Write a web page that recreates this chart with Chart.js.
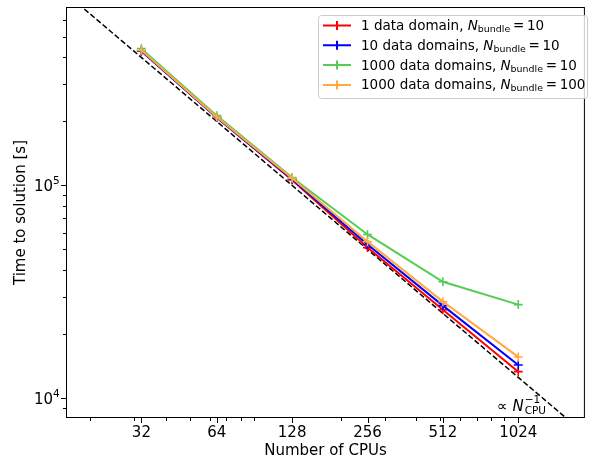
<!DOCTYPE html>
<html>
<head>
<meta charset="utf-8">
<script src="https://cdn.jsdelivr.net/npm/chart.js@4.4.0/dist/chart.umd.min.js"></script>
<style>
    html, body { margin: 0; padding: 0; background: #fff; }
</style>
</head>
<body>
<canvas id="scalingChart" width="591" height="459"></canvas>
<script>
// DATA
const cpus = [32, 64, 128, 256, 512, 1024];
const oneDomain = [429000, 209000, 106000, 51000, 26000, 13300];
const tenDomains = [429000, 209000, 107000, 52700, 27200, 14300];
const thousandDomains = [440000, 213000, 109000, 58800, 35200, 27500];
const thousandDomainsBundle100 = [432000, 210000, 108000, 54400, 28400, 15600];

// ideal N^-1 guide line (two end points)
const idealCpus = [16, 2048];
const idealTime = [800000, 6250];

const seriesNames = ["1 data domain, ", "10 data domains, ", "1000 data domains, ", "1000 data domains, "];
const bundleSizes = [10, 10, 10, 100];
const seriesColors = ["#ff0000", "#0000ff", "#55cc55", "#ffa940"];

const xTicks = [32, 64, 128, 256, 512, 1024];
const xMinorTicks = [20, 30, 40, 50, 60, 70, 80, 90, 200, 300, 400, 500, 600, 700, 800, 900];
const yTicks = [10000, 100000];
const yTickExponents = ["4", "5"];
const yMinorTicks = [9000, 20000, 30000, 40000, 50000, 60000, 70000, 80000, 90000,
                     200000, 300000, 400000, 500000, 600000];

const FONT = "DejaVu Sans";
const FS = 13.5;     // legend
const AFS = 15;      // axes text

function toPoints(xs, ys) {
    return xs.map((x, i) => ({ x: x, y: ys[i] }));
}

function font(size, style) {
    return (style ? style + " " : "") + size + "px '" + FONT + "'";
}

// draws text pieces one after another (for sub/superscripts)
function drawRich(ctx, x, y, parts) {
    for (const p of parts) {
        ctx.font = p.font;
        ctx.fillText(p.text, x, y + (p.dy || 0));
        if (!p.stay) {
            x += ctx.measureText(p.text).width;
        }
    }
    return x;
}

const decorations = {
    id: "decorations",
    afterDatasetsDraw(chart) {
        const { ctx, chartArea: a, scales: { x, y } } = chart;
        ctx.save();
        ctx.strokeStyle = "#000";
        ctx.lineWidth = 1;

        // frame
        ctx.strokeRect(a.left + 0.5, a.top + 0.5, a.right - a.left - 1, a.bottom - a.top - 1);

        // tick marks
        ctx.beginPath();
        xTicks.forEach(v => {
            const px = Math.round(x.getPixelForValue(v)) + 0.5;
            ctx.moveTo(px, a.bottom); ctx.lineTo(px, a.bottom + 5);
        });
        xMinorTicks.forEach(v => {
            const px = Math.round(x.getPixelForValue(v)) + 0.5;
            ctx.moveTo(px, a.bottom); ctx.lineTo(px, a.bottom + 3);
        });
        yTicks.forEach(v => {
            const py = Math.round(y.getPixelForValue(v)) + 0.5;
            ctx.moveTo(a.left, py); ctx.lineTo(a.left - 5, py);
        });
        yMinorTicks.forEach(v => {
            const py = Math.round(y.getPixelForValue(v)) + 0.5;
            ctx.moveTo(a.left, py); ctx.lineTo(a.left - 3, py);
        });
        ctx.stroke();

        // y tick labels as 10^n
        ctx.fillStyle = "#000";
        ctx.textBaseline = "alphabetic";
        yTicks.forEach((v, i) => {
            const py = y.getPixelForValue(v);
            drawRich(ctx, 34, py + 6, [
                { text: "10", font: font(AFS) },
                { text: yTickExponents[i], font: font(AFS * 0.7), dy: -7 }
            ]);
        });

        // proportionality note
        let tx = drawRich(ctx, 497, 411, [
            { text: "\u221d ", font: font(AFS) },
            { text: "N", font: font(AFS, "italic") }
        ]);
        drawRich(ctx, tx + 1, 411, [
            { text: "\u22121", font: font(AFS * 0.7), dy: -8, stay: true },
            { text: "CPU", font: font(AFS * 0.7), dy: 3 }
        ]);

        // legend box
        const lx = 318, ly = 15, lw = 269, lh = 83;
        ctx.beginPath();
        ctx.roundRect(lx + 0.5, ly + 0.5, lw, lh, 3);
        ctx.fillStyle = "rgba(255,255,255,0.8)";
        ctx.fill();
        ctx.strokeStyle = "#cccccc";
        ctx.stroke();

        seriesNames.forEach((name, i) => {
            const cy = 25.5 + i * 19.8;
            const col = seriesColors[i];
            ctx.strokeStyle = col;
            ctx.lineWidth = 2;
            ctx.beginPath();
            ctx.moveTo(323, cy); ctx.lineTo(351, cy);
            ctx.moveTo(337, cy - 4.5); ctx.lineTo(337, cy + 4.5);
            ctx.stroke();

            ctx.fillStyle = "#000";
            ctx.textBaseline = "middle";
            drawRich(ctx, 361, cy + 1, [
                { text: name, font: font(FS) },
                { text: "N", font: font(FS, "italic") },
                { text: "bundle", font: font(FS * 0.7), dy: 3 },
                { text: "\u2009=\u2009" + bundleSizes[i], font: font(FS) }
            ]);
        });
        ctx.restore();
    }
};

function seriesDataset(i, ys, order) {
    return {
        label: seriesNames[i] + "N_bundle = " + bundleSizes[i],
        data: toPoints(cpus, ys),
        borderColor: seriesColors[i],
        backgroundColor: seriesColors[i],
        borderWidth: 2,
        pointStyle: "cross",
        pointRadius: 4.5,
        pointBorderWidth: 1.6,
        order: order
    };
}

const ctx = document.getElementById("scalingChart").getContext("2d");

new Chart(ctx, {
    type: "line",
    data: {
        datasets: [
            seriesDataset(0, oneDomain, 4),
            seriesDataset(1, tenDomains, 3),
            seriesDataset(2, thousandDomains, 2),
            seriesDataset(3, thousandDomainsBundle100, 1),
            {
                label: "ideal",
                data: toPoints(idealCpus, idealTime),
                borderColor: "#000",
                borderWidth: 1.5,
                borderDash: [5.5, 2.5],
                pointRadius: 0,
                order: 5
            }
        ]
    },
    options: {
        responsive: false,
        animation: false,
        layout: {
            padding: { top: 7, right: 4, left: 0, bottom: 0 }
        },
        plugins: {
            legend: { display: false },
            tooltip: { enabled: false }
        },
        scales: {
            x: {
                type: "logarithmic",
                min: 16,
                max: 1890,
                grid: { display: false, drawTicks: false },
                border: { display: false },
                afterBuildTicks: scale => {
                    scale.ticks = xTicks.map(v => ({ value: v }));
                },
                afterFit: scale => {
                    scale.height = 41;
                    scale.paddingLeft = 0;
                    scale.paddingRight = 0;
                },
                ticks: {
                    autoSkip: false,
                    maxRotation: 0,
                    padding: 6,
                    color: "#000",
                    font: { family: FONT, size: AFS },
                    callback: v => String(v)
                },
                title: {
                    display: true,
                    text: "Number of CPUs",
                    color: "#000",
                    font: { family: FONT, size: AFS },
                    padding: { top: 0, bottom: -1 }
                }
            },
            y: {
                type: "logarithmic",
                min: 8050,
                max: 691000,
                grid: { display: false, drawTicks: false },
                border: { display: false },
                afterBuildTicks: scale => {
                    scale.ticks = yTicks.map(v => ({ value: v }));
                },
                afterFit: scale => {
                    scale.width = 66;
                    scale.paddingTop = 0;
                    scale.paddingBottom = 0;
                },
                ticks: {
                    display: false
                },
                title: {
                    display: true,
                    text: "Time to solution [s]",
                    color: "#000",
                    font: { family: FONT, size: AFS },
                    padding: { top: 12, bottom: 0 }
                }
            }
        }
    },
    plugins: [decorations]
});
</script>
</body>
</html>
